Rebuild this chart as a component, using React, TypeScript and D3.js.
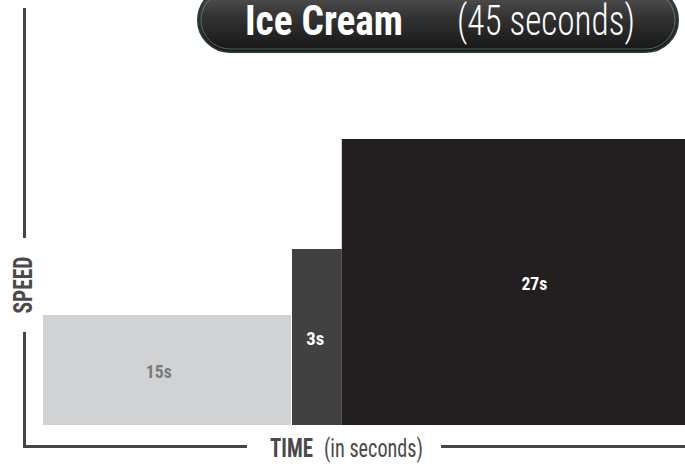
import { useMemo } from 'react';
import * as d3 from 'd3';

// Chart data: each phase of the blend, how long it runs and how fast
const phaseLabels = ['15s', '3s', '27s'];
const phaseDurations = [15, 3, 27];
const phaseSpeeds = [5, 8, 13];
const phaseColors = ['#d1d2d4', '#414141', '#231f20'];
const phaseTextColors = ['#7b7b7b', '#ffffff', '#ffffff'];

const titleMain = 'Ice Cream';
const titleSub = '(45 seconds)';
const yAxisLabel = 'SPEED';
const xAxisLabelBold = 'TIME';
const xAxisLabelLight = '(in seconds)';

const WIDTH = 685;
const HEIGHT = 468;
const FONT = "'Roboto Condensed', 'Liberation Sans Narrow', 'DejaVu Sans Condensed', Roboto, sans-serif";
const AXIS_COLOR = '#454545';

export default function App() {
  const margin = { left: 43, bottom: 43, top: 139 };
  const baseline = HEIGHT - margin.bottom;

  const total = d3.sum(phaseDurations);
  const starts = useMemo(() => d3.cumsum([0, ...phaseDurations.slice(0, -1)]), []);

  // the plot runs off the right edge of the picture
  const x = d3.scaleLinear().domain([0, total]).range([margin.left, 790]);
  const y = d3.scaleLinear().domain([0, d3.max(phaseSpeeds)!]).range([baseline, margin.top]);
  const labelRight = 756;

  const axisX = 24.5;
  const axisY = 446.5;

  return (
    <svg
      width={WIDTH}
      height={HEIGHT}
      style={{ position: 'absolute', left: 0, top: 0, background: '#fff' }}
      fontFamily={FONT}
    >
      <defs>
        <linearGradient id="pill" x1="0" y1="0" x2="0" y2="1">
          <stop offset="0%" stopColor="#5a5a5a" />
          <stop offset="45%" stopColor="#333333" />
          <stop offset="100%" stopColor="#151515" />
        </linearGradient>
        <clipPath id="plot">
          <rect x={0} y={0} width={WIDTH} height={HEIGHT} />
        </clipPath>
      </defs>

      {/* bars */}
      <g clipPath="url(#plot)">
        {phaseDurations.map((d, i) => {
          const x0 = x(starts[i]);
          const x1 = x(starts[i] + d);
          return (
            <rect
              key={phaseLabels[i]}
              x={x0}
              y={y(phaseSpeeds[i])}
              width={x1 - x0 - (i === 0 ? 1 : 0)}
              height={baseline - y(phaseSpeeds[i])}
              fill={phaseColors[i]}
            />
          );
        })}
      </g>

      {/* bar labels, sitting a little left of centre */}
      {phaseDurations.map((d, i) => {
        const x0 = x(starts[i]);
        const x1 = Math.min(x(starts[i] + d), labelRight);
        const cy = (y(phaseSpeeds[i]) + baseline) / 2;
        return (
          <text
            key={phaseLabels[i]}
            x={x0 + (x1 - x0) * 0.465}
            y={cy}
            dy="0.42em"
            textAnchor="middle"
            fontSize={18}
            fontWeight={700}
            fill={phaseTextColors[i]}
            textLength={phaseLabels[i].length === 2 ? 18 : 26}
            lengthAdjust="spacingAndGlyphs"
          >
            {phaseLabels[i]}
          </text>
        );
      })}

      {/* axes with gaps for the labels */}
      <g stroke={AXIS_COLOR} strokeWidth={3} fill="none">
        <line x1={axisX} x2={axisX} y1={8} y2={238} />
        <path d={`M${axisX},332 V${axisY} H247`} strokeLinejoin="miter" />
        <line x1={441} x2={WIDTH} y1={axisY} y2={axisY} />
      </g>

      <text
        transform={`translate(${axisX + 7},285) rotate(-90)`}
        textAnchor="middle"
        fontSize={25}
        fontWeight={700}
        fill="#4a4a4a"
        textLength={57}
        lengthAdjust="spacingAndGlyphs"
      >
        {yAxisLabel}
      </text>

      <text
        x={270}
        y={457}
        fontSize={26}
        fontWeight={700}
        fill="#4a4a4a"
        textLength={43}
        lengthAdjust="spacingAndGlyphs"
      >
        {xAxisLabelBold}
      </text>
      <text
        x={324}
        y={457}
        fontSize={26}
        fontWeight={400}
        fill="#4a4a4a"
        textLength={99}
        lengthAdjust="spacingAndGlyphs"
      >
        {xAxisLabelLight}
      </text>

      {/* title pill */}
      <rect x={198} y={-12} width={480} height={64} rx={32} fill="url(#pill)" stroke="#243838" strokeWidth={2} />
      <rect x={201} y={-9} width={474} height={58} rx={29} fill="none" stroke="#8a8a8a" strokeWidth={1} opacity={0.6} />
      <text
        x={245}
        y={35}
        fontSize={42}
        fontWeight={700}
        fill="#ffffff"
        textLength={158}
        lengthAdjust="spacingAndGlyphs"
      >
        {titleMain}
      </text>
      <text
        x={457}
        y={35}
        fontSize={42}
        fontWeight={300}
        fill="#ffffff"
        textLength={178}
        lengthAdjust="spacingAndGlyphs"
      >
        {titleSub}
      </text>
    </svg>
  );
}
